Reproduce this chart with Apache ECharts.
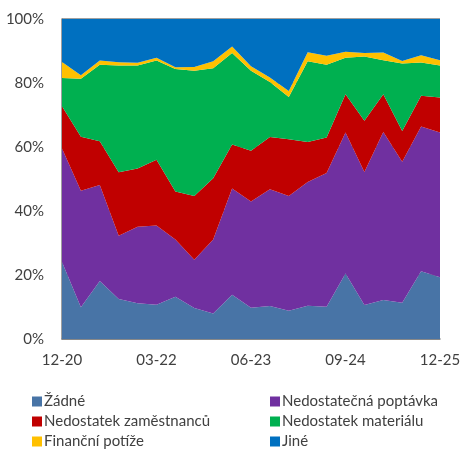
<!DOCTYPE html>
<html>
<head>
<meta charset="utf-8">
<script src="https://cdn.jsdelivr.net/npm/echarts@6/dist/echarts.min.js"></script>
<style>
  html, body { margin: 0; padding: 0; background: #fff; }
  #chart { width: 476px; height: 463px; }
</style>
</head>
<body>
<div id="chart"></div>
<script>
// quarters 12-20 .. 12-25
const quarters = [
  '12-20', '03-21', '06-21', '09-21', '12-21', '03-22', '06-22', '09-22', '12-22',
  '03-23', '06-23', '09-23', '12-23', '03-24', '06-24', '09-24', '12-24',
  '03-25', '06-25', '09-25', '12-25'
];

// shares in %
const zadne      = [24.1, 9.9, 18.1, 12.5, 11.2, 10.7, 13.2, 9.7, 8.0, 13.8, 9.8, 10.3, 8.8, 10.4, 10.1, 20.5, 10.6, 12.2, 11.3, 21.2, 19.3];
const poptavka   = [35.4, 36.4, 30.0, 19.8, 23.9, 24.8, 17.9, 15.1, 23.1, 33.2, 33.2, 36.5, 35.9, 38.7, 41.8, 44.0, 41.6, 52.5, 44.1, 45.2, 45.2];
const zamestnanc = [13.2, 16.9, 13.7, 19.8, 18.2, 20.5, 15.0, 19.9, 19.1, 13.8, 15.8, 16.3, 17.7, 12.5, 11.1, 12.0, 16.0, 11.8, 9.6, 9.6, 11.0];
const material   = [8.9, 18.1, 23.9, 33.4, 32.2, 31.0, 38.3, 39.1, 34.4, 28.6, 25.0, 17.2, 13.2, 25.2, 22.7, 11.4, 20.1, 10.6, 21.1, 10.4, 10.0];
const financni   = [5.0, 1.1, 1.3, 1.0, 0.8, 0.9, 0.5, 1.2, 2.2, 2.0, 1.4, 1.4, 1.9, 2.8, 2.8, 1.9, 1.1, 2.4, 0.8, 2.3, 1.6];
const jine       = [13.4, 17.6, 13.0, 13.5, 13.7, 12.1, 15.1, 15.0, 13.2, 8.6, 14.8, 18.3, 22.5, 10.4, 11.5, 10.2, 10.6, 10.5, 13.1, 11.3, 12.9];

const yTicks = [0, 20, 40, 60, 80, 100];

const FONT = 'Lato';
const TEXT = '#404040';

const seriesDefs = [
  { name: 'Žádné', data: zadne, color: '#4874A6' },
  { name: 'Nedostatečná poptávka', data: poptavka, color: '#7030A0' },
  { name: 'Nedostatek zaměstnanců', data: zamestnanc, color: '#C00000' },
  { name: 'Nedostatek materiálu', data: material, color: '#00B050' },
  { name: 'Finanční potíže', data: financni, color: '#FFC000' },
  { name: 'Jiné', data: jine, color: '#0070C0' }
];

const legendBase = {
  orient: 'vertical',
  top: 389,
  icon: 'rect',
  itemWidth: 10,
  itemHeight: 10,
  itemGap: 5,
  textStyle: { fontFamily: FONT, fontSize: 15, color: TEXT, padding: [0, 0, 0, -3], lineHeight: 14 },
  selectedMode: false
};

const chart = echarts.init(document.getElementById('chart'));

chart.setOption({
  animation: false,
  color: seriesDefs.map(s => s.color),
  grid: { left: 62, right: 36, top: 19, bottom: 124 },
  legend: [
    Object.assign({}, legendBase, { left: 27, data: ['Žádné', 'Nedostatek zaměstnanců', 'Finanční potíže'] }),
    Object.assign({}, legendBase, { left: 265, data: ['Nedostatečná poptávka', 'Nedostatek materiálu', 'Jiné'] })
  ],
  xAxis: {
    type: 'category',
    data: quarters,
    boundaryGap: false,
    axisLine: { lineStyle: { color: '#808080', width: 1.5 } },
    axisTick: { show: false },
    axisLabel: {
      interval: 4,
      margin: 14,
      fontFamily: FONT,
      fontSize: 15,
      color: TEXT
    }
  },
  yAxis: {
    type: 'value',
    min: yTicks[0],
    max: yTicks[yTicks.length - 1],
    interval: 20,
    axisLine: { show: true, lineStyle: { color: '#808080', width: 1.5 } },
    axisTick: { show: false },
    splitLine: { show: true, lineStyle: { color: '#808080', width: 1.5 } },
    axisLabel: {
      margin: 18,
      fontFamily: FONT,
      fontSize: 15,
      color: TEXT,
      formatter: '{value}%'
    }
  },
  series: seriesDefs.map(s => ({
    name: s.name,
    type: 'line',
    stack: 'total',
    data: s.data,
    showSymbol: false,
    symbol: 'none',
    lineStyle: { width: 0 },
    areaStyle: { color: s.color, opacity: 1 },
    itemStyle: { color: s.color }
  }))
});
</script>
</body>
</html>
